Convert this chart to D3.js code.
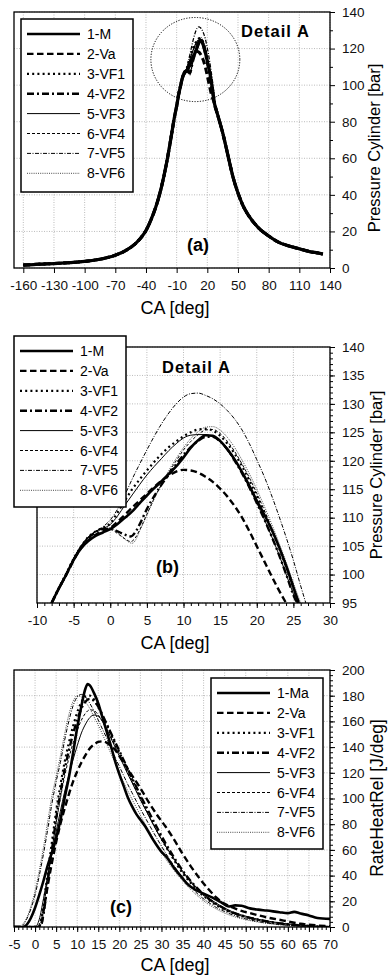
<!DOCTYPE html>
<html>
<head>
<meta charset="utf-8">
<script src="https://cdn.jsdelivr.net/npm/d3@7"></script>
<style>
    body { margin: 0; background: #fff; }
    svg { display: block; font-family: "Liberation Sans", Arial, sans-serif; }
</style>
</head>
<body>
<svg id="chart" width="388" height="979"></svg>
<script>
// ---- data ----
const namesP = ['1-M', '2-Va', '3-VF1', '4-VF2', '5-VF3', '6-VF4', '7-VF5', '8-VF6'];
const namesQ = ['1-Ma', '2-Va', '3-VF1', '4-VF2', '5-VF3', '6-VF4', '7-VF5', '8-VF6'];

// pressure flanks shared by all cases, panel (a)  [CA deg, bar]
const pressLeft = [[-160, 1.6], [-150, 1.9], [-145, 2.1], [-130, 2.4], [-115, 2.9], [-100, 3.6], [-85, 4.8],
    [-70, 7], [-60, 9.5], [-50, 13.5], [-45, 16.5], [-40, 20.5], [-35, 26.5], [-30, 34], [-25, 44],
    [-20, 57], [-15, 73], [-12, 83], [-10, 88.5]];
const pressRight = [[27, 90], [30, 84], [35, 74], [40, 62], [45, 50], [50, 41], [55, 34], [60, 29],
    [70, 22], [80, 17.5], [90, 14], [100, 12], [110, 10.5], [120, 9], [130, 8], [133, 7.6]];

// detail A, panel (b)
const pM = [[-8, 95], [-7, 97.6], [-6, 100], [-5, 102.6], [-4, 104.6], [-3, 105.9], [-2, 106.8], [-1, 107.4],
    [0, 108], [1, 108.9], [2, 110], [3, 111.1], [4, 112.5], [5, 113.9], [6, 115.2], [7, 116.4], [8, 117.7],
    [9, 119], [10, 120.6], [11, 122.3], [12, 123.6], [13, 124.5], [14, 124.4], [15, 123.5], [16, 122],
    [17, 120.2], [18, 118], [19, 115.6], [20, 113], [21, 110.6], [22, 108], [23, 105], [24, 101.6],
    [25, 97.8], [25.7, 95]];
const pVa = [[-8, 95], [-7, 97.6], [-6, 100], [-5, 102.5], [-4, 104.6], [-3, 106], [-2, 107], [-1, 107.6],
    [0, 108.2], [1, 109.3], [2, 110.5], [3, 111.8], [4, 113], [5, 114.2], [6, 115.4], [7, 116.5], [8, 117.4],
    [9, 118.1], [10, 118.4], [11, 118.3], [12, 117.9], [13, 117.2], [14, 116.3], [15, 115.1], [16, 113.7],
    [17, 112], [18, 110], [19, 107.6], [20, 105], [21, 102.4], [22, 99.8], [23, 97.3], [24, 95]];
const pVF1 = [[-8, 95], [-7, 97.7], [-6, 100.2], [-5, 102.8], [-4, 104.9], [-3, 106.6], [-2, 107.6], [-1, 108.2],
    [0, 109], [1, 110.9], [2, 113], [3, 115], [4, 116.7], [5, 118.3], [6, 119.8], [7, 121.2], [8, 122.4],
    [9, 123.4], [10, 124.3], [11, 125], [12, 125.5], [13, 125.6], [14, 125.3], [15, 124.4], [16, 123],
    [17, 121.2], [18, 119], [19, 116.5], [20, 113.8], [21, 111], [22, 108], [23, 104.8], [24, 101.3],
    [25, 97.5], [25.8, 95]];
const pVF2 = [[-8, 95], [-7, 97.6], [-6, 100], [-5, 102.6], [-4, 104.8], [-3, 106.4], [-2, 107.4], [-1, 108],
    [0, 108], [1, 107.6], [2, 107], [2.8, 106.7], [3.5, 107.6], [4, 108.8], [5, 111.5], [6, 113.8], [7, 115.8],
    [8, 117.6], [9, 119.4], [10, 121], [11, 122.4], [12, 123.5], [13, 124.2], [14, 124.2], [15, 123.4],
    [16, 122], [17, 120], [18, 117.8], [19, 115.3], [20, 112.6], [21, 109.8], [22, 106.8], [23, 103.6],
    [24, 100.1], [25, 96.4], [25.5, 95]];
const pVF3 = [[-8, 95], [-7, 97.6], [-6, 100.1], [-5, 102.8], [-4, 105], [-3, 106.6], [-2, 107.6], [-1, 108.1],
    [0, 108.8], [1, 110.3], [2, 112.2], [3, 114], [4, 115.8], [5, 117.5], [6, 119], [7, 120.4], [8, 121.8],
    [9, 123], [10, 124], [11, 124.5], [12, 124.6], [13, 124.6], [14, 124.2], [15, 123.3], [16, 121.8],
    [17, 120], [18, 117.8], [19, 115.3], [20, 112.6], [21, 109.8], [22, 106.8], [23, 103.6], [24, 100.1],
    [25, 96.6], [25.5, 95]];
const pVF4 = [[-8, 95], [-7, 97.6], [-6, 100], [-5, 102.6], [-4, 104.8], [-3, 106.5], [-2, 107.5], [-1, 108.1],
    [0, 108], [1, 107.2], [2, 106.3], [2.8, 105.8], [3.5, 106.6], [4, 107.8], [5, 110.6], [6, 113.4],
    [7, 115.8], [8, 118], [9, 120], [10, 121.9], [11, 123.4], [12, 124.6], [13, 125.4], [14, 125.5],
    [15, 124.8], [16, 123.4], [17, 121.6], [18, 119.4], [19, 117], [20, 114.3], [21, 111.4], [22, 108.3],
    [23, 105], [24, 101.5], [25, 97.8], [25.9, 95]];
const pVF5 = [[-8, 95], [-7, 97.7], [-6, 100.2], [-5, 102.8], [-4, 104.9], [-3, 106.5], [-2, 107.6], [-1, 108.4],
    [0, 109.6], [1, 111.5], [2, 114], [3, 116.8], [4, 119.4], [5, 121.9], [6, 124.3], [7, 126.5], [8, 128.4],
    [9, 130], [10, 131.2], [11, 131.8], [12, 131.9], [13, 131.5], [14, 130.9], [15, 130], [16, 128.8],
    [17, 127.3], [18, 125.4], [19, 123], [20, 120.2], [21, 117.3], [22, 114], [23, 110.4], [24, 106.6],
    [25, 102.5], [26, 98], [26.7, 95]];
const pVF6 = [[-8, 95], [-7, 97.6], [-6, 100], [-5, 102.6], [-4, 104.8], [-3, 106.5], [-2, 107.6], [-1, 108.2],
    [0, 108.2], [1, 107.4], [2, 106.2], [3, 105.5], [3.6, 106.4], [4, 107.6], [5, 110.4], [6, 113.3],
    [7, 115.9], [8, 118.3], [9, 120.4], [10, 122.3], [11, 123.9], [12, 125.1], [13, 125.9], [14, 126],
    [15, 125.4], [16, 124.1], [17, 122.3], [18, 120.1], [19, 117.7], [20, 115], [21, 112.1], [22, 109],
    [23, 105.7], [24, 102.2], [25, 98.5], [26, 95]];

// rate of heat release, panel (c)  [CA deg, J/deg]
const qMa = [[-5, 0], [-3, 0], [-2.4, 0.5], [-1.5, 4], [-1, 7], [0, 15], [1, 25], [2, 36], [3, 48], [4, 58],
    [5, 69], [6, 83], [7, 100], [8, 116], [9, 135], [10, 155], [11, 172], [12, 186], [12.5, 189], [13, 188],
    [14, 182], [15, 174], [16, 163], [17, 152], [18, 141], [19, 129], [20, 119], [21, 110], [22, 101],
    [23, 94], [24, 88], [25, 83.5], [26, 79], [28, 68], [30, 58.5], [31.2, 54.5], [33, 46], [35, 38],
    [36, 34], [38, 29], [40, 26], [42, 23], [44, 19.5], [46, 16], [47.5, 16.8], [49, 16.5], [51, 14.5],
    [53, 13.5], [55, 12.8], [58, 11.5], [60, 10.8], [61.5, 11.8], [63, 10.5], [65, 9], [67, 7], [70, 6.3]];
const qVa = [[-5, 0], [1, 0], [1.5, 2], [2, 12], [3, 32], [4, 50], [5, 66], [6, 80], [7, 92], [8, 103],
    [9, 113], [10, 121], [11, 128], [12, 134], [13, 139], [14, 142], [15, 144], [16, 144.5], [17, 143.5],
    [18, 141], [19, 138], [20, 133], [21, 128], [22, 123], [23, 118], [25, 108], [27, 97], [29, 87],
    [31, 78], [33, 68], [35, 57], [37, 47], [39, 38], [41, 30], [43, 23], [45, 18], [47, 15], [49, 12.5],
    [51, 10.8], [55, 7.5], [59, 5], [63, 2.5], [67, 1.2], [70, 0.6]];
const qVF1 = [[-5, 0], [0.8, 0], [1.5, 5], [2, 17], [3, 42], [4, 66], [5, 90], [6, 110], [7, 128], [8, 143],
    [9, 156], [10, 167], [11, 175], [12, 179.5], [13, 180], [14, 177], [15, 171], [16, 164], [17, 157],
    [18, 150], [19, 143], [20, 136], [21, 129], [22, 122], [23, 115], [25, 101], [27, 88], [29, 75],
    [31, 63], [33, 52], [35, 42], [37, 34], [39, 27], [41, 21.5], [43, 17], [45, 13.5], [47, 10.8],
    [50, 7.8], [53, 5.5], [56, 3.6], [60, 2], [64, 0.8], [68, 0.2], [70, 0]];
const qVF2 = [[-5, 0], [1.2, 0], [2, 10], [3, 35], [4, 60], [5, 84], [6, 104], [7, 122], [8, 137], [9, 150],
    [10, 161], [11, 170], [12, 175.5], [13, 177.5], [14, 176], [15, 171.5], [16, 165], [17, 158], [18, 151],
    [19, 144], [20, 137], [21, 130], [22, 123], [23, 116], [25, 102.5], [27, 89.5], [29, 77], [31, 65],
    [33, 54], [35, 44], [37, 35.5], [39, 28.5], [41, 22.5], [43, 18], [45, 14.2], [47, 11.2], [50, 8],
    [53, 5.6], [56, 3.8], [60, 2.1], [64, 1], [68, 0.3], [70, 0]];
const qVF3 = [[-5, 0], [0, 0], [1, 6], [2, 22], [3, 40], [4, 57], [5, 74], [6, 90], [7, 105], [8, 118],
    [9, 130], [10, 141], [11, 151], [12, 158], [13, 163], [14, 165], [15, 164], [16, 160], [17, 154],
    [18, 147], [19, 140], [20, 133], [21, 126], [22, 119], [23, 112.5], [25, 99], [27, 86.5], [29, 74],
    [31, 63], [33, 53], [35, 43.5], [37, 35.5], [39, 28.5], [41, 23], [43, 18.5], [45, 14.8], [47, 11.6],
    [50, 8.4], [53, 6], [56, 4.2], [60, 2.4], [64, 1.2], [68, 0.4], [70, 0.2]];
const qVF4 = [[-5, 0], [0.5, 0], [1.5, 8], [2, 16], [3, 38], [4, 60], [5, 81], [6, 100], [7, 117], [8, 131],
    [9, 143], [10, 153], [11, 161], [12, 166.5], [13, 169], [14, 168.5], [15, 165], [16, 160], [17, 154],
    [18, 147.5], [19, 141], [20, 134], [21, 127], [22, 120], [23, 113], [25, 99.5], [27, 86.5], [29, 74],
    [31, 62.5], [33, 52], [35, 42.5], [37, 34.5], [39, 27.5], [41, 22], [43, 17.5], [45, 13.8], [47, 10.8],
    [50, 7.6], [53, 5.2], [56, 3.5], [60, 1.9], [64, 0.9], [68, 0.2], [70, 0]];
const qVF5 = [[-5, 0], [-3.2, 0], [-2.5, 3], [-2, 6], [-1, 14], [0, 25], [1, 40], [2, 57], [3, 76], [4, 96],
    [5, 113], [6, 128], [7, 145], [8, 160], [9, 172], [10, 179], [11, 181], [12, 179], [13, 174], [14, 168],
    [15, 161], [16, 154], [17, 147], [18, 139.5], [19, 132], [20, 125], [21, 118], [22, 111], [23, 104.5],
    [25, 92], [27, 80], [29, 68.5], [31, 57.5], [33, 47.5], [35, 38.5], [37, 31], [39, 24.5], [41, 19.5],
    [43, 15.2], [45, 12], [47, 9.3], [50, 6.3], [53, 4.2], [56, 2.7], [60, 1.4], [64, 0.5], [68, 0.1], [70, 0]];
const qVF6 = [[-5, 0], [-3.5, 0], [-3, 2], [-2, 7], [-1, 16], [0, 28], [1, 44], [2, 62], [3, 82], [4, 102],
    [5, 117], [6, 133], [7, 150], [8, 165], [9, 175.5], [10, 180], [11, 179], [12, 175], [13, 170],
    [14, 163.5], [15, 157], [16, 150], [17, 142.5], [18, 135], [19, 127.5], [20, 120], [21, 113], [22, 106],
    [23, 99.5], [25, 87], [27, 75], [29, 63.5], [31, 53], [33, 44], [35, 36], [37, 29], [39, 23],
    [41, 18], [43, 14], [45, 10.8], [47, 8.3], [50, 5.7], [53, 3.8], [56, 2.4], [60, 1.1], [64, 0.4],
    [68, 0], [70, 0]];

const detailP = [pM, pVa, pVF1, pVF2, pVF3, pVF4, pVF5, pVF6];
const fullP = detailP.map(d => pressLeft.concat(d, pressRight));
const heatQ = [qMa, qVa, qVF1, qVF2, qVF3, qVF4, qVF5, qVF6];

// detail A marker in panel (a): centre and half-extent in data units
const detailCircle = { ca: 8.3, p: 114, dCA: 43.5, dP: 23 };

// ticks
const ticksAx = d3.range(-160, 141, 30);
const ticksAy = d3.range(0, 141, 20);
const ticksBx = d3.range(-10, 31, 5);
const ticksBy = d3.range(95, 141, 5);
const ticksCx = d3.range(-5, 71, 5);
const ticksCy = d3.range(0, 201, 20);

// ---- drawing ----
const svg = d3.select('#chart');
const FONT = '"Liberation Sans", Arial, sans-serif';

const STYLES = [
    { w: 2.6, dash: null },
    { w: 2.4, dash: '6.5,3.5' },
    { w: 2.2, dash: '2,3.2' },
    { w: 2.4, dash: '7,3,2,3' },
    { w: 1, dash: null },
    { w: 1, dash: '3,2' },
    { w: 1, dash: '4,1.5,1,1.5' },
    { w: 0.9, dash: '1,1.2' },
];

function drawPanel(cfg) {
    const g = svg.append('g');
    const x = d3.scaleLinear().domain(cfg.xDomain).range([cfg.left, cfg.right]);
    const y = d3.scaleLinear().domain(cfg.yDomain).range([cfg.bottom, cfg.top]);

    // dotted grid
    const grid = g.append('g')
        .attr('stroke', '#aaa')
        .attr('stroke-width', 0.8)
        .attr('stroke-dasharray', '1,1.5');
    grid.selectAll('.gx').data(cfg.xTicks).join('line')
        .attr('x1', d => x(d)).attr('x2', d => x(d))
        .attr('y1', cfg.top).attr('y2', cfg.bottom);
    grid.selectAll('.gy').data(cfg.yTicks).join('line')
        .attr('class', 'gy')
        .attr('x1', cfg.left).attr('x2', cfg.right)
        .attr('y1', d => y(d)).attr('y2', d => y(d));

    const clipId = 'clip-' + cfg.id;
    svg.append('clipPath').attr('id', clipId)
        .append('rect')
        .attr('x', cfg.left).attr('y', cfg.top)
        .attr('width', cfg.right - cfg.left).attr('height', cfg.bottom - cfg.top);

    const line = d3.line()
        .x(d => x(d[0]))
        .y(d => y(d[1]))
        .curve(d3.curveMonotoneX);

    const lines = g.append('g').attr('clip-path', `url(#${clipId})`);
    for (let i = cfg.series.length - 1; i >= 0; i--) {
        lines.append('path')
            .attr('d', line(cfg.series[i]))
            .attr('fill', 'none')
            .attr('stroke', i === 7 ? '#333' : '#000')
            .attr('stroke-width', STYLES[i].w * (cfg.widthScale || 1))
            .attr('stroke-dasharray', STYLES[i].dash)
            .attr('stroke-linejoin', 'round');
    }

    if (cfg.extra) cfg.extra(g, x, y);

    // frame
    g.append('rect')
        .attr('x', cfg.left).attr('y', cfg.top)
        .attr('width', cfg.right - cfg.left).attr('height', cfg.bottom - cfg.top)
        .attr('fill', 'none').attr('stroke', '#000').attr('stroke-width', 1.3);

    const styleAxis = a => {
        a.select('.domain').remove();
        a.attr('font-size', null).attr('font-family', null);
        a.selectAll('line').attr('stroke', '#000');
        a.selectAll('text').attr('fill', '#111').style('font-size', '13.5px').style('font-family', FONT);
    };
    const plain = d => String(d);   // hyphen-minus, as in the figure

    g.append('g')
        .attr('transform', `translate(${cfg.right},0)`)
        .call(d3.axisRight(y).tickValues(cfg.yTicks).tickSize(5).tickPadding(7).tickFormat(plain))
        .call(styleAxis);
    if (cfg.yMinor) {
        g.append('g')
            .attr('transform', `translate(${cfg.right},0)`)
            .call(d3.axisRight(y).tickValues(cfg.yMinor).tickSize(3).tickFormat(''))
            .call(styleAxis);
    }
    g.append('g')
        .attr('transform', `translate(0,${cfg.bottom})`)
        .call(d3.axisBottom(x).tickValues(cfg.xTicks).tickSize(5).tickPadding(7).tickFormat(plain))
        .call(styleAxis);
    if (cfg.xMinor) {
        g.append('g')
            .attr('transform', `translate(0,${cfg.bottom})`)
            .call(d3.axisBottom(x).tickValues(cfg.xMinor).tickSize(3).tickFormat(''))
            .call(styleAxis);
    }

    // axis titles
    g.append('text')
        .attr('x', 175).attr('y', cfg.xTitleY)
        .attr('text-anchor', 'middle')
        .style('font-size', '18px')
        .text('CA [deg]');
    g.append('text')
        .attr('transform', `translate(${cfg.yTitleX},${cfg.yTitleCY}) rotate(-90)`)
        .attr('text-anchor', 'middle')
        .style('font-size', cfg.yTitleSize)
        .text(cfg.yTitle);

    // legend
    const lg = cfg.legend;
    const leg = g.append('g').attr('transform', `translate(${lg.x},${lg.y})`);
    leg.append('rect')
        .attr('width', lg.w).attr('height', lg.h)
        .attr('fill', '#fff').attr('stroke', '#000').attr('stroke-width', 1.5);
    cfg.names.forEach((name, i) => {
        const ry = 15 + i * 19.9;
        leg.append('line')
            .attr('x1', 6).attr('x2', 59)
            .attr('y1', ry).attr('y2', ry)
            .attr('stroke', i === 7 ? '#333' : '#000')
            .attr('stroke-width', STYLES[i].w)
            .attr('stroke-dasharray', STYLES[i].dash);
        leg.append('text')
            .attr('x', 66).attr('y', ry + 5)
            .style('font-size', '14px')
            .text(name);
    });

    // annotations
    cfg.notes.forEach(n => {
        g.append('text')
            .attr('x', n.x).attr('y', n.y)
            .style('font-size', n.size)
            .style('font-weight', 'bold')
            .style('letter-spacing', n.ls || '0px')
            .text(n.text);
    });
}

drawPanel({
    id: 'a',
    left: 14, right: 330, top: 12, bottom: 268,
    xDomain: [-169.1, 140], yDomain: [0, 140],
    xTicks: ticksAx, yTicks: ticksAy,
    yMinor: d3.range(10, 140, 20),
    series: fullP, names: namesP, widthScale: 1.25,
    xTitleY: 314, yTitleX: 380, yTitleCY: 148, yTitleSize: '16.5px',
    yTitle: 'Pressure Cylinder [bar]',
    legend: { x: 21, y: 19, w: 112, h: 173 },
    notes: [
        { text: 'Detail A', x: 241, y: 37, size: '16.5px', ls: '1px' },
        { text: '(a)', x: 187, y: 251, size: '18px' },
    ],
    extra: (g, x, y) => {
        g.append('ellipse')
            .attr('cx', x(detailCircle.ca)).attr('cy', y(detailCircle.p))
            .attr('rx', x(detailCircle.ca + detailCircle.dCA) - x(detailCircle.ca))
            .attr('ry', y(detailCircle.p) - y(detailCircle.p + detailCircle.dP))
            .attr('fill', 'none').attr('stroke', '#000')
            .attr('stroke-width', 1).attr('stroke-dasharray', '1.2,1.5');
    },
});

drawPanel({
    id: 'b',
    left: 37, right: 330, top: 347, bottom: 603,
    xDomain: [-10, 30], yDomain: [95, 140],
    xTicks: ticksBx, yTicks: ticksBy,
    xMinor: d3.range(-10, 31, 1), yMinor: d3.range(95, 141, 1),
    series: detailP, names: namesP,
    xTitleY: 649, yTitleX: 382, yTitleCY: 475, yTitleSize: '16.5px',
    yTitle: 'Pressure Cylinder [bar]',
    legend: { x: 14, y: 336, w: 112, h: 171 },
    notes: [
        { text: 'Detail A', x: 162, y: 373, size: '16.5px', ls: '1px' },
        { text: '(b)', x: 156, y: 573, size: '18px' },
    ],
});

drawPanel({
    id: 'c',
    left: 14, right: 330, top: 670, bottom: 927,
    xDomain: [-5, 70], yDomain: [0, 200],
    xTicks: ticksCx, yTicks: ticksCy,
    xMinor: d3.range(-5, 71, 1), yMinor: d3.range(0, 201, 4),
    series: heatQ, names: namesQ,
    xTitleY: 971, yTitleX: 383, yTitleCY: 798, yTitleSize: '17.5px',
    yTitle: 'RateHeatRel [J/deg]',
    legend: { x: 211, y: 678, w: 112, h: 171 },
    notes: [
        { text: '(c)', x: 110, y: 913, size: '18px' },
    ],
});
</script>
</body>
</html>
